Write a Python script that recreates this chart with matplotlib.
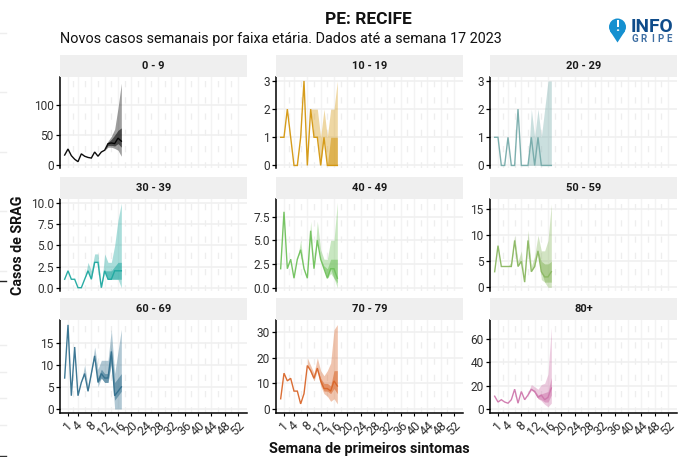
# casos semanais de SRAG por faixa etaria, Recife
import numpy as np
import matplotlib
matplotlib.use('Agg')
import matplotlib.pyplot as plt
from matplotlib.patches import Circle, Polygon, Rectangle
from matplotlib.lines import Line2D

plt.rcParams['font.family'] = ['Roboto', 'DejaVu Sans']

# Data. Weeks 0..17; band lists cover the last weeks.
weeks = np.arange(18)
age_groups = ['0 - 9', '10 - 19', '20 - 29', '30 - 39', '40 - 49', '50 - 59',
              '60 - 69', '70 - 79', '80+']
x_ticks = [1, 4, 8, 12, 16, 20, 24, 28, 32, 36, 40, 44, 48, 52]

cases_0_9 = [17, 27, 16, 10, 6, 19, 15, 13, 12, 22, 15, 22, 25, 36, 37, 36, 45, 40]
outer_lo_0_9 = [25, 30, 30, 28, 25, 15]
outer_hi_0_9 = [25, 40, 48, 60, 95, 136]
inner_lo_0_9 = [25, 33, 33, 32, 36, 30]
inner_hi_0_9 = [25, 38, 43, 50, 58, 62]

cases_10_19 = [1, 1, 2, 1, 0, 0, 1, 3, 0, 2, 1, 1, 0, 1, 0, 0, 0, 0]
outer_lo_10_19 = [2, 1, 1, 0, 1, 0, 0, 0, 0]
outer_hi_10_19 = [2, 2, 2, 1, 2, 1, 2, 2, 3]
inner_lo_10_19 = [2, 1, 1, 0, 1, 0, 0, 0, 0]
inner_hi_10_19 = [2, 1, 1, 0, 1, 0, 1, 1, 1]

cases_20_29 = [1, 1, 0, 0, 1, 0, 0, 2, 0, 0, 0, 1, 0, 1, 0, 0, 0, 0]
outer_lo_20_29 = [0, 0, 0, 0, 0, 0, 0, 0]
outer_hi_20_29 = [0, 2, 1, 2, 1, 2, 3, 3]
inner_lo_20_29 = [0, 0, 0, 0, 0, 0, 0, 0]
inner_hi_20_29 = [0, 0, 0, 0, 0, 0, 0, 0]

cases_30_39 = [1, 2, 1, 1, 0, 0, 1, 2, 1, 3, 3, 0, 2, 1, 1, 2, 2, 2]
outer_lo_30_39 = [1, 2, 1, 3, 3, 0, 2, 1, 1, 1, 1, 0]
outer_hi_30_39 = [1, 3, 2, 4, 4, 0, 4, 3, 3, 5, 8, 10]
inner_lo_30_39 = [1, 2, 1, 3, 3, 0, 2, 1, 1, 1, 1, 1]
inner_hi_30_39 = [1, 2, 1, 3, 3, 0, 2, 2, 2, 2.5, 3, 3]

cases_40_49 = [2, 8, 2, 3, 1, 3, 4, 2, 1, 6, 2, 5, 3, 2, 1, 2, 2, 1]
outer_lo_40_49 = [3, 4, 2, 1, 6, 2, 5, 3, 2, 1, 1.5, 1, 0]
outer_hi_40_49 = [3, 5, 2, 1, 7, 2, 7, 4, 3, 3, 5, 5, 9]
inner_lo_40_49 = [3, 4, 2, 1, 6, 2, 5, 3, 2, 1, 2, 1, 0.5]
inner_hi_40_49 = [3, 4, 2, 1, 6, 2, 5, 3, 2.3, 2, 3, 3, 3]

cases_50_59 = [3, 8, 4, 4, 4, 4, 9, 4, 5, 1, 9, 3, 4, 7, 3, 2, 2, 3]
outer_lo_50_59 = [4, 4, 9, 4, 5, 1, 9, 3, 4, 7, 1.5, 1, 0, 0]
outer_hi_50_59 = [4, 5, 10, 5, 7, 1, 11, 4, 6, 10, 7, 7, 9, 16]
inner_lo_50_59 = [4, 4, 9, 4, 5, 1, 9, 3, 4, 7, 3, 1, 1, 1]
inner_hi_50_59 = [4, 4, 9, 4, 5, 1, 9, 3, 4, 7, 5, 4.5, 4.5, 5]

cases_60_69 = [7, 19, 3, 14, 3, 6, 8, 4, 8, 12, 6, 8, 7, 7, 13, 3, 4, 5]
outer_lo_60_69 = [6, 8, 4, 8, 12, 5, 7, 6, 6, 10, 0, 0, 0]
outer_hi_60_69 = [6, 10, 5, 9, 14, 9, 11, 11, 11, 18, 8, 13, 18]
inner_lo_60_69 = [6, 8, 4, 8, 12, 6, 7, 6, 6, 11, 2, 3, 4]
inner_hi_60_69 = [6, 8, 4, 8, 12, 7, 9, 8, 8, 14, 6, 7, 8]

cases_70_79 = [4, 14, 11, 12, 7, 7, 2, 6, 17, 15, 12, 16, 11, 8, 8, 7, 11, 9]
outer_lo_70_79 = [17, 14, 11, 15, 9, 6, 5, 3, 4, 2]
outer_hi_70_79 = [20, 17, 14, 20, 15, 13, 15, 18, 31, 33]
inner_lo_70_79 = [17, 15, 12, 16, 10, 7, 7, 6, 8, 6]
inner_hi_70_79 = [17, 15, 12, 16, 12, 10, 10, 9, 15, 15]

cases_80 = [11, 6, 8, 6, 5, 8, 17, 5, 15, 8, 12, 17, 15, 10, 12, 8, 10, 18]
outer_lo_80 = [12, 16, 14, 9, 7, 4, 2, 5]
outer_hi_80 = [14, 21, 19, 17, 21, 22, 30, 70]
inner_lo_80 = [12, 17, 15, 9, 8, 6, 6, 12]
inner_hi_80 = [12, 17, 16, 12, 13, 14, 15, 27]

all_cases = [cases_0_9, cases_10_19, cases_20_29, cases_30_39, cases_40_49,
             cases_50_59, cases_60_69, cases_70_79, cases_80]
all_outer_lo = [outer_lo_0_9, outer_lo_10_19, outer_lo_20_29, outer_lo_30_39, outer_lo_40_49,
                outer_lo_50_59, outer_lo_60_69, outer_lo_70_79, outer_lo_80]
all_outer_hi = [outer_hi_0_9, outer_hi_10_19, outer_hi_20_29, outer_hi_30_39, outer_hi_40_49,
                outer_hi_50_59, outer_hi_60_69, outer_hi_70_79, outer_hi_80]
all_inner_lo = [inner_lo_0_9, inner_lo_10_19, inner_lo_20_29, inner_lo_30_39, inner_lo_40_49,
                inner_lo_50_59, inner_lo_60_69, inner_lo_70_79, inner_lo_80]
all_inner_hi = [inner_hi_0_9, inner_hi_10_19, inner_hi_20_29, inner_hi_30_39, inner_hi_40_49,
                inner_hi_50_59, inner_hi_60_69, inner_hi_70_79, inner_hi_80]

y_ticks = [[0, 50, 100], [0, 1, 2, 3], [0, 1, 2, 3],
           [0, 2.5, 5, 7.5, 10], [0, 2.5, 5, 7.5], [0, 5, 10, 15],
           [0, 5, 10, 15], [0, 10, 20, 30], [0, 20, 40, 60]]
y_labels = [['0', '50', '100'], ['0', '1', '2', '3'], ['0', '1', '2', '3'],
            ['0.0', '2.5', '5.0', '7.5', '10.0'], ['0.0', '2.5', '5.0', '7.5'], ['0', '5', '10', '15'],
            ['0', '5', '10', '15'], ['0', '10', '20', '30'], ['0', '20', '40', '60']]
y_limits = [(-4.5, 146.4), (-0.09, 3.14), (-0.09, 3.14),
            (-0.39, 10.5), (-0.35, 9.35), (-0.7, 16.95),
            (-0.9, 20.1), (-1.56, 34.8), (-3.4, 76.3)]
colors = ['#000000', '#d4970f', '#76abaa', '#1fa8a0', '#70c15c', '#8bb862',
          '#33708e', '#d9662a', '#cf78ad']

W, H = 682, 457
col_left = [60, 276, 490]
panel_w = 187
row_top = [77, 199, 320]
row_bottom = [168, 291, 413]
strip_h = 22


def main():
    fig = plt.figure(figsize=(W / 100, H / 100), dpi=100)

    def to_fig(x0, y0, x1, y1):
        return [x0 / W, 1 - y1 / H, (x1 - x0) / W, (y1 - y0) / H]

    for i, group in enumerate(age_groups):
        row, col = divmod(i, 3)
        x0, x1 = col_left[col], col_left[col] + panel_w
        y0, y1 = row_top[row], row_bottom[row]

        fig.add_artist(Rectangle((x0 / W, 1 - y0 / H), panel_w / W, strip_h / H,
                                 transform=fig.transFigure, facecolor='#efefef',
                                 edgecolor='none'))
        fig.text((x0 + x1) / 2 / W, 1 - (y0 - strip_h / 2) / H, group, fontsize=8,
                 fontweight='bold', ha='center', va='center', color='#1a1a1a')

        ax = fig.add_axes(to_fig(x0, y0, x1, y1))
        ax.set_xlim(-1.4, 54.7)
        ax.set_ylim(*y_limits[i])
        for side in ['top', 'right']:
            ax.spines[side].set_visible(False)
        ax.spines['left'].set_linewidth(1.1)
        ax.spines['bottom'].set_linewidth(1.1)
        ax.spines['bottom'].set_visible(row == 2)

        # grid under the data
        ax.set_axisbelow(True)
        ax.set_xticks(x_ticks)
        ax.set_xticks([t + 2 for t in x_ticks[1:-1]] + [2.5], minor=True)
        ax.set_yticks(y_ticks[i])
        ax.set_yticklabels(y_labels[i])
        ax.grid(True, which='major', axis='y', color='#f0f0f0', lw=1.2)
        ax.grid(True, which='major', axis='x', color='#f3f3f3', lw=1.0)
        ax.grid(True, which='minor', axis='x', color='#eeeeee', lw=0.9, ls=(0, (5, 8)))
        ax.tick_params(axis='x', which='minor', length=0)

        if row == 2:
            ax.set_xticklabels([str(t) for t in x_ticks], rotation=45, ha='center',
                               fontsize=9, color='#303030')
            ax.tick_params(axis='x', which='major', length=2.5, width=0.8, pad=1.5)
        else:
            ax.tick_params(axis='x', which='major', length=0, labelbottom=False)
        ax.tick_params(axis='y', length=3, width=0.9, labelsize=8.6,
                       labelcolor='#303030', pad=1.5)

        color = colors[i]
        wk_out = weeks[-len(all_outer_lo[i]):]
        wk_in = weeks[-len(all_inner_lo[i]):]
        ax.fill_between(wk_out, all_outer_lo[i], all_outer_hi[i], color=color,
                        alpha=0.38, lw=0)
        ax.fill_between(wk_in, all_inner_lo[i], all_inner_hi[i], color=color,
                        alpha=0.55, lw=0)
        ax.plot(weeks, all_cases[i], color=color, lw=1.0, alpha=0.95, solid_joinstyle='miter')

    # titles
    fig.text(368 / W, 1 - 19 / H, 'PE: RECIFE', fontsize=12.5, fontweight='bold',
             ha='center', va='center', color='#111111')
    fig.text(60 / W, 1 - 39 / H,
             'Novos casos semanais por faixa etária. Dados até a semana 17 2023',
             fontsize=10.4, ha='left', va='center', color='#111111')
    fig.text(18 / W, 1 - 245 / H, 'Casos de SRAG', fontsize=10.3, fontweight='bold',
             rotation=90, ha='center', va='center', color='#111111')
    fig.text(369 / W, 1 - 449 / H, 'Semana de primeiros sintomas', fontsize=10.4,
             fontweight='bold', ha='center', va='center', color='#111111')

    # logo
    logo = fig.add_axes([0, 0, 1, 1], facecolor='none')
    logo.set_xlim(0, W)
    logo.set_ylim(H, 0)
    logo.axis('off')
    logo.add_patch(Circle((617.5, 27), 8.5, facecolor='#1590d0', edgecolor='none'))
    logo.add_patch(Polygon([[610, 31], [625, 31], [617.5, 42.5]], closed=True,
                           facecolor='#1590d0', edgecolor='none'))
    logo.text(617.5, 27, '!', fontsize=10.5, fontweight='bold', color='white',
              ha='center', va='center')
    logo.text(631, 26.5, 'INFO', fontsize=13.8, fontweight='bold', color='#0f4c8a',
              ha='left', va='center')
    for k, letter in enumerate('GRIPE'):
        logo.text(635 + k * 8.6, 39.5, letter, fontsize=7, fontweight='bold',
                  color='#3f6fa3', ha='center', va='center')

    # slivers at the left edge of the screenshot
    for y in [33, 92, 152, 211, 271, 345, 372, 398, 425]:
        logo.add_line(Line2D([0, 6], [y, y], color='#eeeeee', lw=1))
    logo.add_line(Line2D([0, 6], [281, 281], color='#222222', lw=1))
    logo.add_line(Line2D([0, 6], [456, 456], color='#333333', lw=1))

    fig.savefig('out.png', dpi=100, facecolor='white')


if __name__ == '__main__':
    main()
